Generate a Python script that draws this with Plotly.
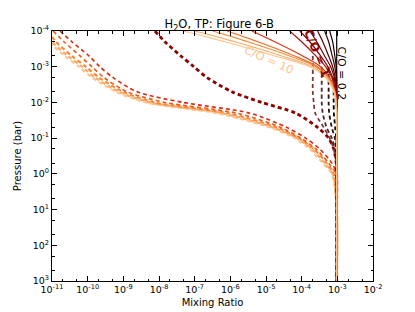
import plotly.graph_objects as go

# ---------------- data ----------------
# Solid curves: shared pressure grid (bar)
P_S = [1e-4, 2e-4, 5e-4, 1e-3, 2e-3, 5e-3, 1e-2, 2e-2, 0.1, 1, 10, 100, 1000]
S_black = [9.6e-4, 9.6e-4, 9.6e-4, 9.6e-4, 9.6e-4, 9.6e-4, 9.6e-4, 9.6e-4, 9.6e-4, 9.6e-4, 9.6e-4, 9.6e-4, 9.6e-4]
S_2 = [6.1e-4, 7.4e-4, 8.5e-4, 9.3e-4, 9.6e-4, 9.6e-4, 9.6e-4, 9.6e-4, 9.6e-4, 9.6e-4, 9.6e-4, 9.6e-4, 9.6e-4]
S_3 = [4.4e-4, 5.7e-4, 7.2e-4, 8.5e-4, 9.3e-4, 9.6e-4, 9.6e-4, 9.6e-4, 9.6e-4, 9.6e-4, 9.6e-4, 9.6e-4, 9.6e-4]
S_4 = [2.8e-4, 3.9e-4, 5.7e-4, 7.4e-4, 8.7e-4, 9.6e-4, 9.6e-4, 9.6e-4, 9.6e-4, 9.6e-4, 9.6e-4, 9.6e-4, 9.6e-4]
S_5 = [1.69e-4, 2.65e-4, 4.4e-4, 6.5e-4, 8.2e-4, 9.3e-4, 9.6e-4, 9.6e-4, 9.6e-4, 9.6e-4, 9.6e-4, 9.6e-4, 9.6e-4]
S_6 = [8.9e-5, 1.69e-4, 3.4e-4, 5.4e-4, 7.4e-4, 9.0e-4, 9.6e-4, 9.6e-4, 9.6e-4, 9.6e-4, 9.6e-4, 9.6e-4, 9.6e-4]
S_7 = [4.6e-5, 1.0e-4, 2.5e-4, 4.7e-4, 7.0e-4, 9.0e-4, 9.6e-4, 9.6e-4, 9.6e-4, 9.6e-4, 9.6e-4, 9.6e-4, 9.6e-4]
S_8 = [4.0e-6, 1.76e-5, 1.07e-4, 3.4e-4, 6.1e-4, 8.7e-4, 9.3e-4, 9.6e-4, 9.6e-4, 9.6e-4, 9.6e-4, 9.6e-4, 9.6e-4]
S_9 = [8.0e-7, 5.9e-6, 6.4e-5, 2.8e-4, 5.7e-4, 8.5e-4, 9.3e-4, 9.6e-4, 9.6e-4, 9.6e-4, 9.6e-4, 9.6e-4, 9.6e-4]
S_10 = [3.2e-7, 3.1e-6, 4.6e-5, 2.5e-4, 5.4e-4, 8.5e-4, 9.3e-4, 9.6e-4, 9.6e-4, 9.6e-4, 9.6e-4, 9.6e-4, 9.6e-4]
S_11 = [1.0e-7, 1.34e-6, 2.8e-5, 2.05e-4, 5.0e-4, 8.2e-4, 9.3e-4, 9.6e-4, 9.6e-4, 9.6e-4, 9.6e-4, 9.6e-4, 9.6e-4]
S_12 = [4.7e-8, 7.0e-7, 1.76e-5, 1.69e-4, 4.7e-4, 7.9e-4, 9.0e-4, 9.6e-4, 9.6e-4, 9.6e-4, 9.6e-4, 9.6e-4, 9.6e-4]
solid_series = [S_black, S_2, S_3, S_4, S_5, S_6, S_7, S_8, S_9, S_10, S_11, S_12]
solid_colors = ["#000000", "#1c0000", "#380000", "#550000", "#700000", "#8b0000",
                "#a81010", "#d83218", "#f06a1e", "#f88a3a", "#fcab6a", "#fdc590"]

# Dashed curves from the upper left
P_D = [1e-4, 2e-4, 5e-4, 1e-3, 2e-3, 5e-3, 1e-2, 2e-2, 5e-2, 0.1, 0.2, 0.5, 1, 10, 1000]
D_7 = [7.7e-9, 1.46e-8, 4.1e-8, 9.5e-8, 2.2e-7, 1.1e-6, 7.6e-6, 6.8e-5, 2.8e-4, 5.7e-4, 7.9e-4, 9.3e-4, 9.6e-4, 9.6e-4, 9.6e-4]
D_8 = [1.67e-11, 3.6e-11, 1.09e-10, 2.2e-10, 5.1e-10, 2.4e-9, 4.7e-8, 3.5e-6, 3.8e-5, 1.3e-4, 3.2e-4, 7.0e-4, 9.6e-4, 9.6e-4, 9.6e-4]
D_9 = [1.07e-11, 2.17e-11, 6.1e-11, 1.32e-10, 2.86e-10, 1.26e-9, 1.46e-8, 1.52e-6, 2.6e-5, 9.4e-5, 2.5e-4, 5.7e-4, 9.0e-4, 9.6e-4, 9.6e-4]
D_10 = [7.7e-12, 1.29e-11, 3.6e-11, 8.9e-11, 2.07e-10, 9.7e-10, 7.7e-9, 8.5e-7, 2.0e-5, 8.3e-5, 2.18e-4, 5.0e-4, 7.9e-4, 9.6e-4, 9.6e-4]
D_11 = [6.4e-12, 1.0e-11, 2.8e-11, 6.9e-11, 1.6e-10, 7.5e-10, 5.6e-9, 5.8e-7, 1.55e-5, 7.3e-5, 1.92e-4, 4.4e-4, 7.4e-4, 9.6e-4, 9.6e-4]
D_12 = [5.2e-12, 8.2e-12, 2.3e-11, 5.7e-11, 1.32e-10, 6.2e-10, 4.3e-9, 4.2e-7, 1.28e-5, 6.4e-5, 1.69e-4, 3.9e-4, 7.0e-4, 9.6e-4, 9.6e-4]
left_dashed = [D_12, D_11, D_10, D_9, D_8, D_7]
left_colors = ["#fdc590", "#fcab6a", "#f88a3a", "#ea5a1c", "#d42a10", "#8b0000"]
left_widths = [2.2, 2.2, 2.2, 1.6, 1.6, 2.8]

# Dashed curves near the right (low C/O)
P_B = [5e-4, 1e-3, 2e-3, 5e-3, 1e-2, 2e-2, 5e-2, 0.1, 0.2, 0.5, 1, 1000]
D_5 = [2.05e-4, 2.05e-4, 2.05e-4, 2.05e-4, 2.18e-4, 2.4e-4, 4.16e-4, 6.1e-4, 7.9e-4, 9.3e-4, 9.6e-4, 9.6e-4]
D_4 = [None, 3.65e-4, 3.65e-4, 3.65e-4, 3.65e-4, 3.9e-4, 5.0e-4, 7.0e-4, 8.5e-4, 9.6e-4, 9.6e-4, 9.6e-4]
D_3 = [None, 5.7e-4, 5.7e-4, 5.7e-4, 5.7e-4, 5.9e-4, 7.0e-4, 8.5e-4, 9.3e-4, 9.6e-4, 9.6e-4, 9.6e-4]
D_2 = [None, None, 7.9e-4, 7.9e-4, 7.9e-4, 8.0e-4, 8.7e-4, 9.3e-4, 9.6e-4, 9.6e-4, 9.6e-4, 9.6e-4]
right_dashed = [D_5, D_4, D_3, D_2]
right_colors = ["#7b3a3a", "#5a2525", "#2a1212", "#000000"]

x_tick_vals = [1e-11, 1e-10, 1e-9, 1e-8, 1e-7, 1e-6, 1e-5, 1e-4, 1e-3, 1e-2]
x_tick_text = ["10<sup>-11</sup>", "10<sup>-10</sup>", "10<sup>-9</sup>", "10<sup>-8</sup>",
               "10<sup>-7</sup>", "10<sup>-6</sup>", "10<sup>-5</sup>", "10<sup>-4</sup>",
               "10<sup>-3</sup>", "10<sup>-2</sup>"]
y_tick_vals = [1e-4, 1e-3, 1e-2, 1e-1, 1e0, 1e1, 1e2, 1e3]
y_tick_text = ["10<sup>-4</sup>", "10<sup>-3</sup>", "10<sup>-2</sup>", "10<sup>-1</sup>",
               "10<sup>0</sup>", "10<sup>1</sup>", "10<sup>2</sup>", "10<sup>3</sup>"]

labels = ["C/O = 0.2", "C/O = 1", "C/O = 10"]

# ---------------- figure ----------------
fig = go.Figure()

for xs, c, w in zip(left_dashed, left_colors, left_widths):
    fig.add_trace(go.Scatter(x=xs, y=P_D, mode="lines",
                             line=dict(color=c, width=w, dash="4px,3px", shape="spline", smoothing=0.8),
                             hoverinfo="skip", showlegend=False))
for xs, c in zip(right_dashed, right_colors):
    fig.add_trace(go.Scatter(x=xs, y=P_B, mode="lines",
                             line=dict(color=c, width=1.8, dash="4px,3px", shape="spline", smoothing=0.8),
                             hoverinfo="skip", showlegend=False))
for xs, c in zip(solid_series, solid_colors):
    fig.add_trace(go.Scatter(x=xs, y=P_S, mode="lines",
                             line=dict(color=c, width=1.2, shape="spline", smoothing=0.8),
                             hoverinfo="skip", showlegend=False))

fig.add_annotation(x=-2.88, y=-2.82, xref="x", yref="y", text=labels[0], showarrow=False,
                   textangle=90, font=dict(family="DejaVu Sans", size=11, color="#000000"))
fig.add_annotation(x=-3.57, y=-3.38, xref="x", yref="y", text="<b>" + labels[1] + "</b>", showarrow=False,
                   textangle=68, font=dict(family="DejaVu Sans", size=12, color="#8b0000"))
fig.add_annotation(x=-4.9, y=-3.2, xref="x", yref="y", text=labels[2], showarrow=False,
                   textangle=24, font=dict(family="DejaVu Sans", size=11.5, color="#fdc590"))

axis_common = dict(showline=True, linecolor="black", linewidth=1, mirror="ticks",
                   ticks="inside", ticklen=5, tickcolor="black", showgrid=False, zeroline=False,
                   automargin=False,
                   tickfont=dict(family="DejaVu Sans", size=9.5, color="black"),
                   minor=dict(ticks="inside", ticklen=2.5, tickcolor="black", showgrid=False))

fig.update_xaxes(type="log", range=[-11, -2], tickvals=x_tick_vals, ticktext=x_tick_text,
                 title=dict(text="Mixing Ratio", font=dict(family="DejaVu Sans", size=10, color="black"),
                            standoff=4),
                 **axis_common)
fig.update_yaxes(type="log", range=[3, -4], tickvals=y_tick_vals, ticktext=y_tick_text,
                 title=dict(text="Pressure (bar)", font=dict(family="DejaVu Sans", size=10, color="black"),
                            standoff=6),
                 **axis_common)

# The page body adds an 8px offset, so the figure is 8px smaller and shifted accordingly
fig.update_layout(
    width=407, height=304,
    margin=dict(l=44, r=42, t=23, b=31),
    paper_bgcolor="white", plot_bgcolor="white",
    title=dict(text="H<sub>2</sub>O, TP: Figure 6-B", x=0.519, xanchor="center", y=0.947, yanchor="middle",
               font=dict(family="DejaVu Sans", size=11.5, color="black")),
    showlegend=False,
)

fig.write_html("out.html")
